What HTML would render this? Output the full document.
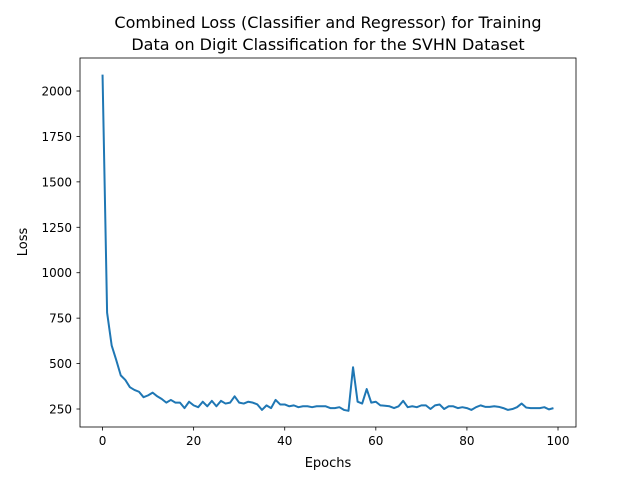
<!DOCTYPE html>
<html><head><meta charset="utf-8"><style>
body{margin:0;background:#fff;}
svg{font-family:"DejaVu Sans","Liberation Sans",sans-serif;}
</style></head><body>
<svg id="chart" width="640" height="480">
<rect width="640" height="480" fill="#fff"/>
<text x="328" y="28" font-size="16" text-anchor="middle">Combined Loss (Classifier and Regressor) for Training</text>
<text x="328" y="50" font-size="16" text-anchor="middle">Data on Digit Classification for the SVHN Dataset</text>
<g id="ticks"></g>
<polyline id="line" fill="none" stroke="#1f77b4" stroke-width="2" stroke-linejoin="round"/>
<rect x="80" y="58" width="496" height="369" fill="none" stroke="#000" stroke-width="0.8"/>
<text x="328" y="467" font-size="13" text-anchor="middle">Epochs</text>
<text transform="translate(27,242) rotate(-90)" font-size="13" text-anchor="middle">Loss</text>
</svg>
<script>
const losses=[2090,780,600,520,435,410,370,355,345,315,325,340,320,305,285,300,285,285,255,290,270,260,290,265,295,265,295,280,285,320,285,280,290,285,275,245,270,255,300,275,275,265,270,260,265,265,260,265,265,265,255,255,260,245,240,480,290,280,360,285,290,270,268,265,255,265,295,260,265,260,270,270,250,270,275,250,265,265,255,260,255,245,260,270,262,262,265,262,255,245,250,260,280,258,255,255,255,260,248,255];
const xTicks=[0,20,40,60,80,100];
const yTicks=[250,500,750,1000,1250,1500,1750,2000];
const X0=-4.95,X1=103.95,Y0=151,Y1=2181.6;
const sx=v=>80+(v-X0)/(X1-X0)*496;
const sy=v=>427-(v-Y0)/(Y1-Y0)*369;
const ns="http://www.w3.org/2000/svg";
const g=document.getElementById('ticks');
xTicks.forEach(t=>{
const l=document.createElementNS(ns,'line');


l.setAttribute('x1',sx(t));l.setAttribute('x2',sx(t));l.setAttribute('y1',427);l.setAttribute('y2',430.5);l.setAttribute('stroke','#000');l.setAttribute('stroke-width','0.8');g.appendChild(l);
const tx=document.createElementNS(ns,'text');


tx.setAttribute('x',sx(t));tx.setAttribute('y',445);tx.setAttribute('font-size','12');tx.setAttribute('text-anchor','middle');tx.textContent=t;g.appendChild(tx);
});
yTicks.forEach(t=>{
const l=document.createElementNS(ns,'line');


l.setAttribute('x1',76.5);l.setAttribute('x2',80);l.setAttribute('y1',sy(t));l.setAttribute('y2',sy(t));l.setAttribute('stroke','#000');l.setAttribute('stroke-width','0.8');g.appendChild(l);
const tx=document.createElementNS(ns,'text');


tx.setAttribute('x',72);tx.setAttribute('y',sy(t)+4.5);tx.setAttribute('font-size','12');tx.setAttribute('text-anchor','end');tx.textContent=t;g.appendChild(tx);
});
document.getElementById('line').setAttribute('points',losses.map((v,i)=>sx(i)+','+sy(v)).join(' '));
</script>
</body></html>
